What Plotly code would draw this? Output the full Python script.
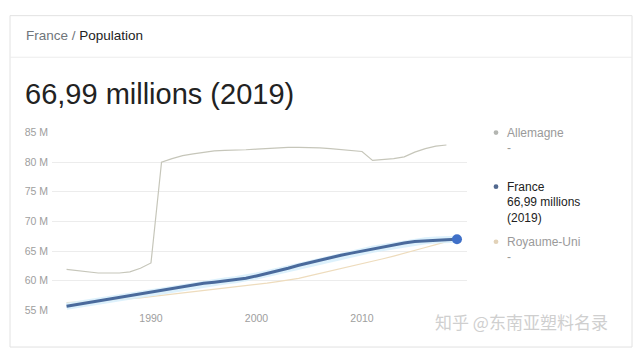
import plotly.graph_objects as go

W, H = 640, 354

years = list(range(1982, 2020))
allemagne = [61.9, 61.7, 61.5, 61.3, 61.3, 61.3, 61.5, 62.1, 63.0, 80.0,
             80.6, 81.1, 81.4, 81.7, 81.9, 82.0, 82.0, 82.1, 82.2, 82.3,
             82.5, 82.5, 82.5, 82.5, 82.4, 82.3, 82.1, 81.9, 81.8, 80.3,
             80.4, 80.6, 80.9, 81.7, 82.3, 82.7, 82.9]
france = [55.7, 56.0, 56.3, 56.6, 56.9, 57.2, 57.5, 57.8, 58.1, 58.4,
          58.75, 59.05, 59.3, 59.55, 59.75, 59.95, 60.15, 60.4, 60.8, 61.2,
          61.6, 62.1, 62.6, 63.05, 63.5, 63.9, 64.3, 64.65, 65.0, 65.3,
          65.6, 65.95, 66.35, 66.6, 66.75, 66.85, 66.93, 66.99]
royaume_uni = [56.3, 56.35, 56.45, 56.55, 56.7, 56.8, 56.95, 57.1, 57.3, 57.5,
               57.8, 58.0, 58.2, 58.4, 58.6, 58.8, 59.0, 59.2, 59.4, 59.6,
               59.85, 60.1, 60.4, 60.8, 61.2, 61.6, 62.05, 62.5, 62.9, 63.3,
               63.7, 64.15, 64.6, 65.1, 65.6, 66.1, 66.6]
y_ticks = [55, 60, 65, 70, 75, 80, 85]
y_tick_labels = ["55 M", "60 M", "65 M", "70 M", "75 M", "80 M", "85 M"]
x_ticks = [1990, 2000, 2010]

FONT = "Liberation Sans, Arial, sans-serif"


def px(x):
    return x / W


def py(y):
    return 1 - y / H


fig = go.Figure()

fig.add_trace(go.Scatter(x=years[:len(allemagne)], y=allemagne, mode="lines",
                         line=dict(color="#c6c6ba", width=1.2), hoverinfo="skip"))
fig.add_trace(go.Scatter(x=years[:len(royaume_uni)], y=royaume_uni, mode="lines",
                         line=dict(color="#eedcbd", width=1.2), hoverinfo="skip"))
fig.add_trace(go.Scatter(x=years, y=france, mode="lines",
                         line=dict(color="rgba(215,238,252,0.85)", width=7),
                         hoverinfo="skip"))
fig.add_trace(go.Scatter(x=years, y=france, mode="lines",
                         line=dict(color="#4a6a9c", width=3), hoverinfo="skip"))
fig.add_trace(go.Scatter(x=[years[-1]], y=[france[-1]], mode="markers",
                         marker=dict(color="#3f70c8", size=10), hoverinfo="skip"))

fig.update_layout(
    width=W, height=H,
    margin=dict(l=0, r=0, t=0, b=0),
    paper_bgcolor="white", plot_bgcolor="white",
    showlegend=False,
    font=dict(family=FONT),
    xaxis=dict(domain=[px(52), px(467)], range=[1980.62, 2019.95],
               tickvals=x_ticks, ticktext=[str(v) for v in x_ticks],
               showgrid=False, zeroline=False, showline=False,
               tickfont=dict(size=10.5, color="#9e9e9e", family=FONT),
               ticks="", fixedrange=True),
    yaxis=dict(domain=[py(315), py(131)], range=[55, 85],
               tickvals=y_ticks, ticktext=y_tick_labels,
               showgrid=True, gridcolor="#ececec", gridwidth=1,
               zeroline=False, showline=False,
               tickfont=dict(size=10.5, color="#9e9e9e", family=FONT),
               ticks="", ticklabelstandoff=3, fixedrange=True),
)

shapes = [
    dict(type="rect", xref="paper", yref="paper",
         x0=px(10), x1=px(632), y0=py(353), y1=py(10),
         line=dict(color="#e2e2e2", width=1), fillcolor="rgba(0,0,0,0)", layer="below"),
    dict(type="line", xref="paper", yref="paper",
         x0=px(10), x1=px(632), y0=py(53), y1=py(53),
         line=dict(color="#ececec", width=1)),
]

legend_items = [
    ("#b4b6b2", 131),
    ("#52698f", 187),
    ("#e2d2b8", 244),
]
for color, yy in legend_items:
    r = 2.4
    shapes.append(dict(type="circle", xref="paper", yref="paper",
                       x0=px(496 - r), x1=px(496 + r), y0=py(yy + r), y1=py(yy - r),
                       fillcolor=color, line=dict(width=0)))
fig.update_layout(shapes=shapes)

ann = []


def text(x, y, s, size, color, anchor="left"):
    ann.append(dict(x=px(x), y=py(y), xref="paper", yref="paper", text=s,
                    showarrow=False, xanchor=anchor, yanchor="middle",
                    font=dict(size=size, color=color, family=FONT)))


text(24, 31, "<span style='color:#70757a'>France</span>"
     "<span style='color:#70757a'> / </span>"
     "<span style='color:#222222'>Population</span>", 13.5, "#222222")
text(23, 91, "66,99 millions (2019)", 29, "#222222")

text(505, 131, "Allemagne", 12, "#9a9a9a")
text(505, 147, "-", 12, "#9a9a9a")
text(505, 187, "France", 12, "#222222")
text(505, 203, "66,99 millions", 12, "#222222")
text(505, 219, "(2019)", 12, "#222222")
text(505, 244, "Royaume-Uni", 12, "#9a9a9a")
text(505, 260, "-", 12, "#9a9a9a")

ann.append(dict(x=px(433), y=py(327), xref="paper", yref="paper",
                text="知乎 @东南亚塑料名录", showarrow=False,
                xanchor="left", yanchor="middle",
                font=dict(size=17, color="#cfcfcf",
                          family="Noto Sans CJK SC, sans-serif")))

fig.update_layout(annotations=ann)

fig.write_html("out.html")
